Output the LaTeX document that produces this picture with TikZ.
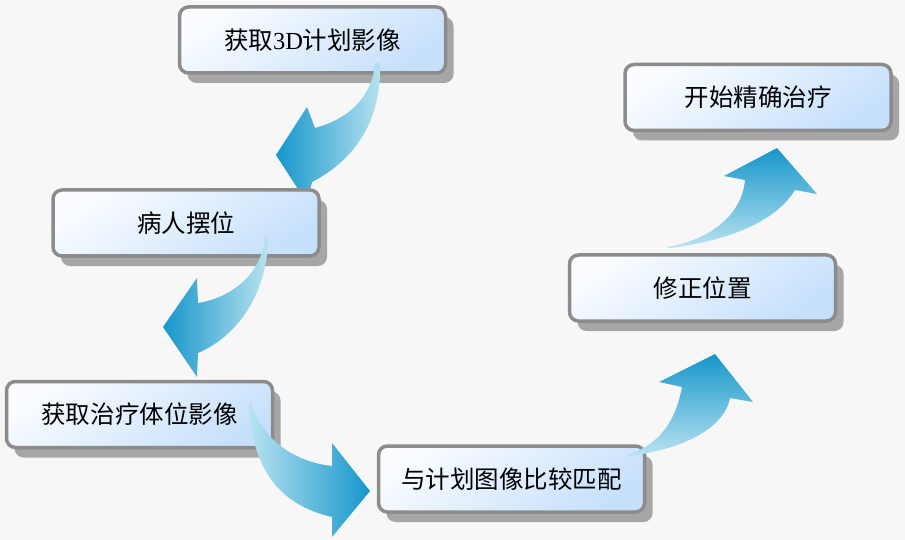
\documentclass[tikz,border=0pt]{standalone}
\usepackage{fontspec}
\setmainfont{Liberation Serif}
\newfontfamily\cjk{Noto Sans CJK SC}
\definecolor{bgGray}{RGB}{247, 247, 247}
\definecolor{boxGray}{RGB}{140, 140, 140}
\definecolor{shadowGray}{RGB}{166, 166, 166}
\definecolor{boxLight}{RGB}{250, 252, 255}
\definecolor{boxBlue}{RGB}{198, 224, 252}
\definecolor{arrowDark}{RGB}{22, 150, 202}
\definecolor{arrowLight}{RGB}{184, 227, 241}
\usetikzlibrary{positioning, shadows}

\begin{document}
\begin{tikzpicture}[
    x=1pt, y=-1pt,
    stepbox/.style={rectangle, rounded corners=9pt, draw=boxGray, line width=3.5pt,
                    top color=boxLight, bottom color=boxBlue, shading angle=35,
                    minimum width=266pt, minimum height=66pt, inner sep=0pt,
                    font=\cjk\fontsize{24.5}{28}\selectfont,
                    drop shadow={shadow xshift=8pt, shadow yshift=-10pt,
                                 fill=shadowGray, opacity=1}},
    leftarrow/.style={left color=arrowDark, right color=arrowLight},
    rightarrow/.style={left color=arrowLight, right color=arrowDark},
    uparrow/.style={top color=arrowDark, bottom color=arrowLight},
  ]
    % Background
    \fill[bgGray] (0,0) rectangle (905,540);

    % Step 1
    \node[stepbox] (getplan) at (312.5,40) {获取{\rmfamily 3D}计划影像};
    \shade[leftarrow] (375,63) -- (380,63)
      .. controls (382,120) and (355,160) .. (312,182)
      -- (307,203) -- (276,155) -- (307,107) -- (315,128)
      .. controls (345,120) and (372,100) .. (375,63) -- cycle;

    % Step 2
    \node[stepbox] (posture) at (186,223) {病人摆位};
    \shade[leftarrow] (265,237) -- (268,237)
      .. controls (268,290) and (240,335) .. (198,353)
      -- (197,377) -- (163,327) -- (197,278) -- (198,303)
      .. controls (230,298) and (262,275) .. (265,237) -- cycle;

    % Step 3
    \node[stepbox] (getimg) at (139.5,414.5) {获取治疗体位影像};
    \shade[rightarrow] (251,403)
      .. controls (262,440) and (295,462) .. (332,466)
      -- (332,443) -- (370,491) -- (332,537) -- (332,517)
      .. controls (280,505) and (252,470) .. (249,405) -- cycle;

    % Step 4
    \node[stepbox] (compare) at (511.5,479) {与计划图像比较匹配};
    \shade[uparrow] (630,456)
      .. controls (690,448) and (725,425) .. (730,398)
      -- (753,402) -- (715,354) -- (659,382) -- (682,387)
      .. controls (676,420) and (660,445) .. (627,455) -- cycle;

    % Step 5
    \node[stepbox] (correct) at (702.5,288) {修正位置};
    \shade[uparrow] (670,248)
      .. controls (730,240) and (775,222) .. (795,190)
      -- (817,194) -- (777,148) -- (724,176) -- (745,180)
      .. controls (742,215) and (710,240) .. (667,247) -- cycle;

    % Step 6
    \node[stepbox] (treat) at (758,97.5) {开始精确治疗};
  \end{tikzpicture}
\end{document}
